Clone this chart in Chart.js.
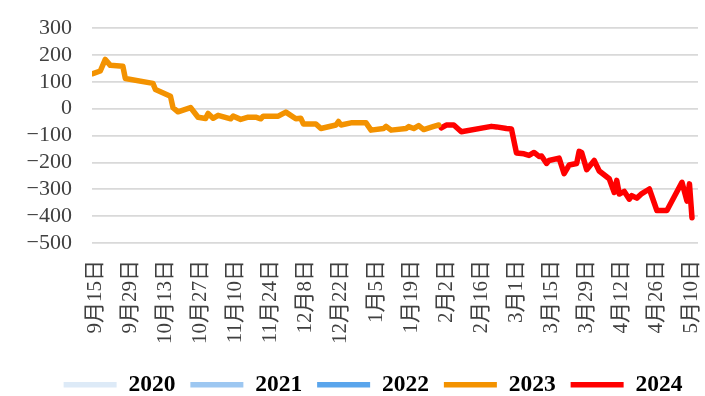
<!DOCTYPE html>
<html lang="zh">
<head>
  <meta charset="UTF-8">
  <title>基差走势</title>
  <style>
    * { margin:0; padding:0; box-sizing:border-box; }
    html, body { background:#fff; width:705px; height:396px; overflow:hidden; }
    #wrap { position:relative; width:705px; height:396px; }
  </style>
  <script src="https://cdn.jsdelivr.net/npm/chart.js"></script>
</head>
<body>
  <div id="wrap"><canvas id="chart"></canvas></div>
  <script>
    // x = days counted from 9月15日, y = value
    const tickLabels = ['9月15日','9月29日','10月13日','10月27日','11月10日','11月24日','12月8日','12月22日',
      '1月5日','1月19日','2月2日','2月16日','3月1日','3月15日','3月29日','4月12日','4月26日','5月10日'];
    const yTicks = [300, 200, 100, 0, -100, -200, -300, -400, -500];

    const years = ['2020', '2021', '2022', '2023', '2024'];
    const colors = ['#ddeaf7', '#9dc7f1', '#5aa5ec', '#f39200', '#ff0000'];

    const days2023 = [-1, 2, 4, 6, 11, 12, 23, 24, 30, 31, 33, 38, 41, 44, 45, 47, 49, 54, 55, 58,
      61, 64, 66, 67, 73, 76, 80, 82, 83, 88, 90, 96, 97, 98, 102, 106, 108, 110, 115, 116,
      118, 124, 125, 127, 129, 131, 135, 137];
    const vals2023 = [130, 140, 183, 161, 158, 112, 94, 71, 46, 4, -12, 4, -32, -37, -18, -36, -25, -38, -28, -40,
      -32, -32, -38, -28, -28, -13, -38, -36, -57, -57, -74, -61, -48, -61, -53, -53, -53, -80, -74, -66,
      -80, -74, -67, -74, -63, -78, -66, -61];

    const days2024 = [138, 140, 143, 146, 158, 160, 164, 166, 168, 171, 173, 175, 177, 178, 180, 181, 185, 187, 189, 192,
      193, 194, 196, 199, 201, 205, 207, 208, 209, 211, 213, 214, 216, 218, 221, 224, 228, 234, 236, 237, 238];
    const vals2024 = [-72, -61, -61, -86, -66, -68, -74, -76, -165, -168, -174, -163, -178, -176, -204, -193, -184, -242, -210, -204,
      -159, -163, -227, -193, -232, -261, -312, -267, -318, -308, -337, -324, -333, -316, -299, -379, -379, -274, -344, -280, -406];

    const seriesDays = [[], [], [], days2023, days2024];
    const seriesVals = [[], [], [], vals2023, vals2024];

    const FONT = "'Liberation Serif', 'Noto Sans CJK SC', serif";

    const datasets = years.map((y, i) => ({
      label: y,
      data: seriesDays[i].map((d, j) => ({ x: d, y: seriesVals[i][j] })),
      borderColor: colors[i],
      backgroundColor: colors[i],
      borderWidth: 5.5,
      borderCapStyle: 'round',
      borderJoinStyle: 'round',
      pointRadius: 0,
      pointStyle: 'line',
      tension: 0,
      fill: false
    }));

    // nudge the legend row to the right so it sits under the plot
    const legendShift = {
      id: 'legendShift',
      afterLayout(chart) {
        chart.legend.left += 24;
        chart.legend.right += 24;
      }
    };

    new Chart(document.getElementById('chart'), {
      type: 'line',
      data: { datasets },
      plugins: [legendShift],
      options: {
        responsive: true,
        maintainAspectRatio: false,
        animation: false,
        layout: { padding: { top: 28, right: 7, left: 0, bottom: -10.5 } },
        plugins: {
          tooltip: { enabled: false },
          legend: {
            position: 'bottom',
            labels: {
              usePointStyle: true,
              pointStyleWidth: 53,
              padding: 15,
              color: '#000',
              font: { family: FONT, size: 23.5, weight: 'bold' }
            }
          }
        },
        scales: {
          x: {
            type: 'linear',
            min: -1.3,
            max: 240.4,
            grid: { display: false },
            border: { display: false },
            afterBuildTicks: s => { s.ticks = tickLabels.map((_, i) => ({ value: i * 14 })); },
            afterFit: s => { s.height = 115; s.paddingLeft = 0; s.paddingRight = 0; },
            ticks: {
              autoSkip: false,
              minRotation: 90,
              maxRotation: 90,
              padding: 9,
              color: '#404040',
              font: { family: FONT, size: 21 },
              callback: v => tickLabels[Math.round(v / 14)]
            }
          },
          y: {
            min: -500,
            max: 300,
            afterBuildTicks: s => { s.ticks = yTicks.map(v => ({ value: v })); },
            afterFit: s => { s.width = 92; s.paddingTop = 0; s.paddingBottom = 0; },
            grid: { color: '#d9d9d9', lineWidth: 1.75, drawTicks: false },
            border: { display: false },
            ticks: {
              autoSkip: false,
              padding: 20,
              color: '#404040',
              font: { family: FONT, size: 22 },
              callback: v => String(v).replace('-', '−')
            }
          }
        }
      }
    });
  </script>
</body>
</html>
